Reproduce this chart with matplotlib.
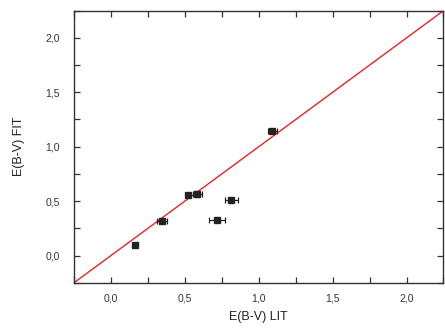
import matplotlib.pyplot as plt
from matplotlib.ticker import MultipleLocator, FuncFormatter

plt.rcParams['font.family'] = ['Liberation Sans', 'DejaVu Sans']

# values
ebv_lit = [0.16, 0.345, 0.518, 0.583, 0.815, 0.72, 1.092]
ebv_fit = [0.10, 0.314, 0.558, 0.567, 0.506, 0.323, 1.144]
err_lit = [0.0, 0.032, 0.0, 0.03, 0.043, 0.054, 0.032]
err_fit = [0.0, 0.0, 0.0, 0.03, 0.0, 0.0, 0.0]
diag = [-0.25, 2.25]

fig = plt.figure(figsize=(4.45, 3.33), dpi=100)
ax = fig.add_axes([0.1663, 0.151, 0.8303, 0.817])

ax.plot(diag, diag, color="#e8232a", lw=1.0, zorder=1)
ax.errorbar(ebv_lit, ebv_fit, xerr=err_lit, yerr=err_fit, fmt="s", color="#222222",
            ms=5, elinewidth=0.9, capsize=2.5, capthick=0.9, zorder=3)

ax.set_xlim(-0.25, 2.25)
ax.set_ylim(-0.25, 2.25)

fmt = FuncFormatter(lambda v, p: ("%.1f" % v).replace(".", ","))
for axis in (ax.xaxis, ax.yaxis):
    axis.set_major_locator(MultipleLocator(0.5))
    axis.set_minor_locator(MultipleLocator(0.25))
    axis.set_major_formatter(fmt)

ax.tick_params(which="both", direction="in", top=True, right=True, length=4,
               width=0.9, color="#333333", labelsize=7.5, labelcolor="#333333")
ax.tick_params(axis="x", pad=8)
ax.tick_params(axis="y", pad=10)
for s in ax.spines.values():
    s.set_color("#333333")
    s.set_linewidth(1.0)

ax.set_xlabel("E(B-V) LIT", fontsize=9, color="#222222", labelpad=5)
ax.set_ylabel("E(B-V) FIT", fontsize=9, color="#222222", labelpad=15)

fig.savefig("out.png", dpi=100)
